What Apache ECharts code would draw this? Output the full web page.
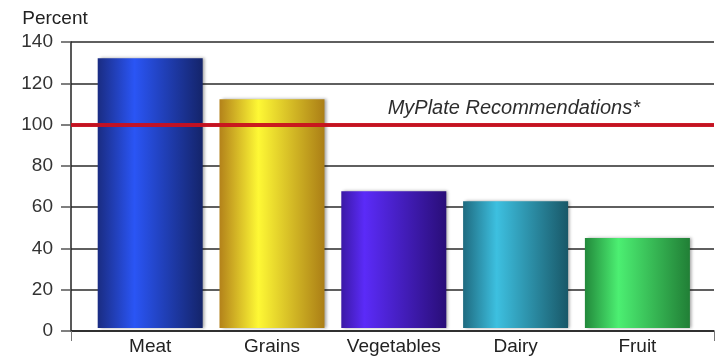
<!DOCTYPE html>
<html>
<head>
<meta charset="utf-8">
<script src="https://cdn.jsdelivr.net/npm/echarts@6/dist/echarts.min.js"></script>
<style>html,body{margin:0;padding:0;background:#fff}#c{width:719px;height:356px}</style>
</head>
<body>
<div id="c"></div>
<script>
var categories = ['Meat', 'Grains', 'Vegetables', 'Dairy', 'Fruit'];
var values = [132, 112, 67, 62, 44];
var yTicks = [0, 20, 40, 60, 80, 100, 120, 140];
var recommendation = 100;
var recommendationLabel = 'MyPlate Recommendations*';
var axisTitle = 'Percent';

var barColors = [
  ['#1a2c82', '#2a55f5', '#14246a', 0.35],
  ['#b3821a', '#fef835', '#ab7e16', 0.37],
  ['#3b19a6', '#5b2bf8', '#290e78', 0.22],
  ['#1f6b80', '#3dc0e0', '#195868', 0.32],
  ['#22893b', '#4cef72', '#217f36', 0.32]
];

function grad(c) {
  return new echarts.graphic.LinearGradient(0, 0, 1, 0, [
    {offset: 0, color: c[0]}, {offset: c[3], color: c[1]}, {offset: 1, color: c[2]}
  ]);
}

var font = 'Liberation Sans, Arial, sans-serif';
var chart = echarts.init(document.getElementById('c'));
chart.setOption({
  animation: false,
  grid: [
    {left: 71, right: 5, top: 42, bottom: 25},
    {left: 89.3, right: 20.7, top: 42, bottom: 25}
  ],
  xAxis: [
    {gridIndex: 0, type: 'value', min: 0, max: 1, interval: 1,
      axisLine: {show: true, lineStyle: {color: '#222', width: 1.5}},
      axisTick: {show: true, length: 10, lineStyle: {color: '#777', width: 1}},
      axisLabel: {show: false}, splitLine: {show: false}},
    {gridIndex: 1, type: 'category', data: categories,
      axisLine: {show: false}, axisTick: {show: false},
      axisLabel: {interval: 0, color: '#222', fontSize: 19, fontFamily: font, margin: 9}}
  ],
  yAxis: [
    {gridIndex: 0, type: 'value', min: yTicks[0], max: yTicks[yTicks.length - 1], interval: 20,
      name: axisTitle, nameLocation: 'end', nameGap: 14,
      nameTextStyle: {color: '#222', fontSize: 19, fontFamily: font, align: 'center', padding: [0, 32, 0, 0]},
      axisLine: {show: true, lineStyle: {color: '#222', width: 1.5}},
      axisTick: {show: true, length: 10, lineStyle: {color: '#555', width: 1.5}},
      axisLabel: {color: '#333', fontSize: 19, fontFamily: font, margin: 18},
      splitLine: {show: true, lineStyle: {color: '#2a2a2a', width: 1.5}}},
    {gridIndex: 1, type: 'value', min: yTicks[0], max: yTicks[yTicks.length - 1], interval: 20,
      show: false, splitLine: {show: false}}
  ],
  series: [
    {type: 'bar', xAxisIndex: 1, yAxisIndex: 1, barWidth: 105, z: 2,
      data: values.map(function (v, i) {
        return {value: v, itemStyle: {color: grad(barColors[i]),
          shadowColor: 'rgba(0,0,0,0.35)', shadowBlur: 3, shadowOffsetX: 2, shadowOffsetY: 0}};
      })},
    {type: 'line', xAxisIndex: 0, yAxisIndex: 0, data: [], z: 5,
      markLine: {silent: true, symbol: ['none', 'none'],
        lineStyle: {color: '#c8101f', width: 4, type: 'solid', opacity: 0.95},
        label: {show: true, position: 'insideEndTop', formatter: recommendationLabel,
          color: '#222', fontSize: 20, fontStyle: 'italic', fontFamily: font,
          distance: [74, 6]},
        data: [{yAxis: recommendation}]}}
  ]
});
</script>
</body>
</html>
